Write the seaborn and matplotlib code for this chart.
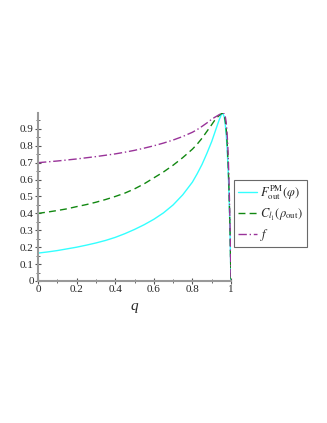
import matplotlib
matplotlib.use("Agg")
import matplotlib.pyplot as plt
import numpy as np
import pandas as pd
import seaborn as sns

# values
q = [0, 0.05, 0.1, 0.15, 0.2, 0.25, 0.3, 0.35, 0.4, 0.45, 0.5, 0.55, 0.6,
     0.65, 0.7, 0.75, 0.8, 0.825, 0.85, 0.875, 0.9, 0.915, 0.93, 0.94, 0.95,
     0.955, 0.96, 0.965, 0.97, 0.975, 0.98, 0.985, 0.99, 0.995, 1.0]
f_out = [0.165, 0.172, 0.18, 0.19, 0.20, 0.212, 0.225, 0.24, 0.258, 0.28,
         0.305, 0.333, 0.365, 0.403, 0.45, 0.51, 0.585, 0.635, 0.69, 0.755,
         0.825, 0.875, 0.925, 0.957, 0.985, 0.99, 0.985, 0.97, 0.93, 0.87,
         0.78, 0.66, 0.50, 0.28, 0.0]
c_l1 = [0.40, 0.408, 0.417, 0.427, 0.44, 0.452, 0.466, 0.482, 0.50, 0.52,
        0.545, 0.575, 0.61, 0.645, 0.685, 0.73, 0.78, 0.81, 0.845, 0.885,
        0.925, 0.95, 0.97, 0.98, 0.99, 0.993, 0.99, 0.98, 0.95, 0.90, 0.82,
        0.70, 0.53, 0.30, 0.0]
f_fid = [0.70, 0.705, 0.71, 0.716, 0.722, 0.729, 0.736, 0.744, 0.752, 0.762,
         0.773, 0.786, 0.80, 0.816, 0.834, 0.855, 0.88, 0.896, 0.915, 0.935,
         0.957, 0.968, 0.978, 0.985, 0.99, 0.993, 0.993, 0.99, 0.975, 0.94,
         0.87, 0.76, 0.58, 0.33, 0.0]

labels = [r"$F_{\mathrm{out}}^{\mathrm{PM}}(\varphi)$",
          r"$C_{l_1}\left(\rho_{\mathrm{out}}\right)$",
          r"$f$"]

df = pd.DataFrame({"q": q, "fout": f_out, "cl1": c_l1, "f": f_fid})

sns.set_theme(style="white")
plt.rcParams["font.family"] = ["Liberation Serif", "DejaVu Serif"]
plt.rcParams["mathtext.fontset"] = "stix"

fig = plt.figure(figsize=(3.27, 4.23), dpi=100)
ax = fig.add_axes([38 / 327, 1 - 281 / 423, 193 / 327, 168 / 423])

sns.lineplot(data=df, x="q", y="fout", ax=ax, color="#33ffff", lw=1.0,
             label=labels[0])
sns.lineplot(data=df, x="q", y="cl1", ax=ax, color="#118811", lw=1.0,
             linestyle=(0, (5, 3)), label=labels[1])
sns.lineplot(data=df, x="q", y="f", ax=ax, color="#993399", lw=1.0,
             linestyle=(0, (6, 2, 1, 2)), label=labels[2])

ax.set_xlim(0, 1)
ax.set_ylim(0, 0.994)
ax.set_xticks(np.arange(0, 1.01, 0.2))
ax.set_xticklabels(["0", "0.2", "0.4", "0.6", "0.8", "1"])
ax.set_xticks(np.arange(0.1, 1.0, 0.2), minor=True)
ax.set_yticks(np.arange(0, 0.91, 0.1))
ax.set_yticklabels(["0"] + ["%.1f" % v for v in np.arange(0.1, 0.91, 0.1)])
ax.set_yticks(np.arange(0.05, 0.99, 0.1), minor=True)
ax.tick_params(axis="both", which="major", direction="inout", length=4,
               width=0.8, color="#555555", labelsize=8, pad=1)
ax.tick_params(axis="both", which="minor", direction="inout", length=2.5,
               width=0.6, color="#555555")
ax.tick_params(axis="both", which="both", bottom=True, left=True)

for s in ["top", "right"]:
    ax.spines[s].set_visible(False)
for s in ["left", "bottom"]:
    ax.spines[s].set_color("#999999")
    ax.spines[s].set_linewidth(1.5)

ax.set_xlabel("q", fontstyle="italic", fontsize=11, labelpad=4)
ax.set_ylabel("")

leg = ax.legend(loc="upper left", bbox_to_anchor=(234 / 327, 1 - 180 / 423),
                bbox_transform=fig.transFigure, frameon=True, fancybox=False,
                fontsize=9, handlelength=1.5, handletextpad=0.3,
                borderpad=0.3, labelspacing=0.35, borderaxespad=0)
leg.get_frame().set_edgecolor("#444444")
leg.get_frame().set_linewidth(0.8)

fig.savefig("out.png", dpi=100)
